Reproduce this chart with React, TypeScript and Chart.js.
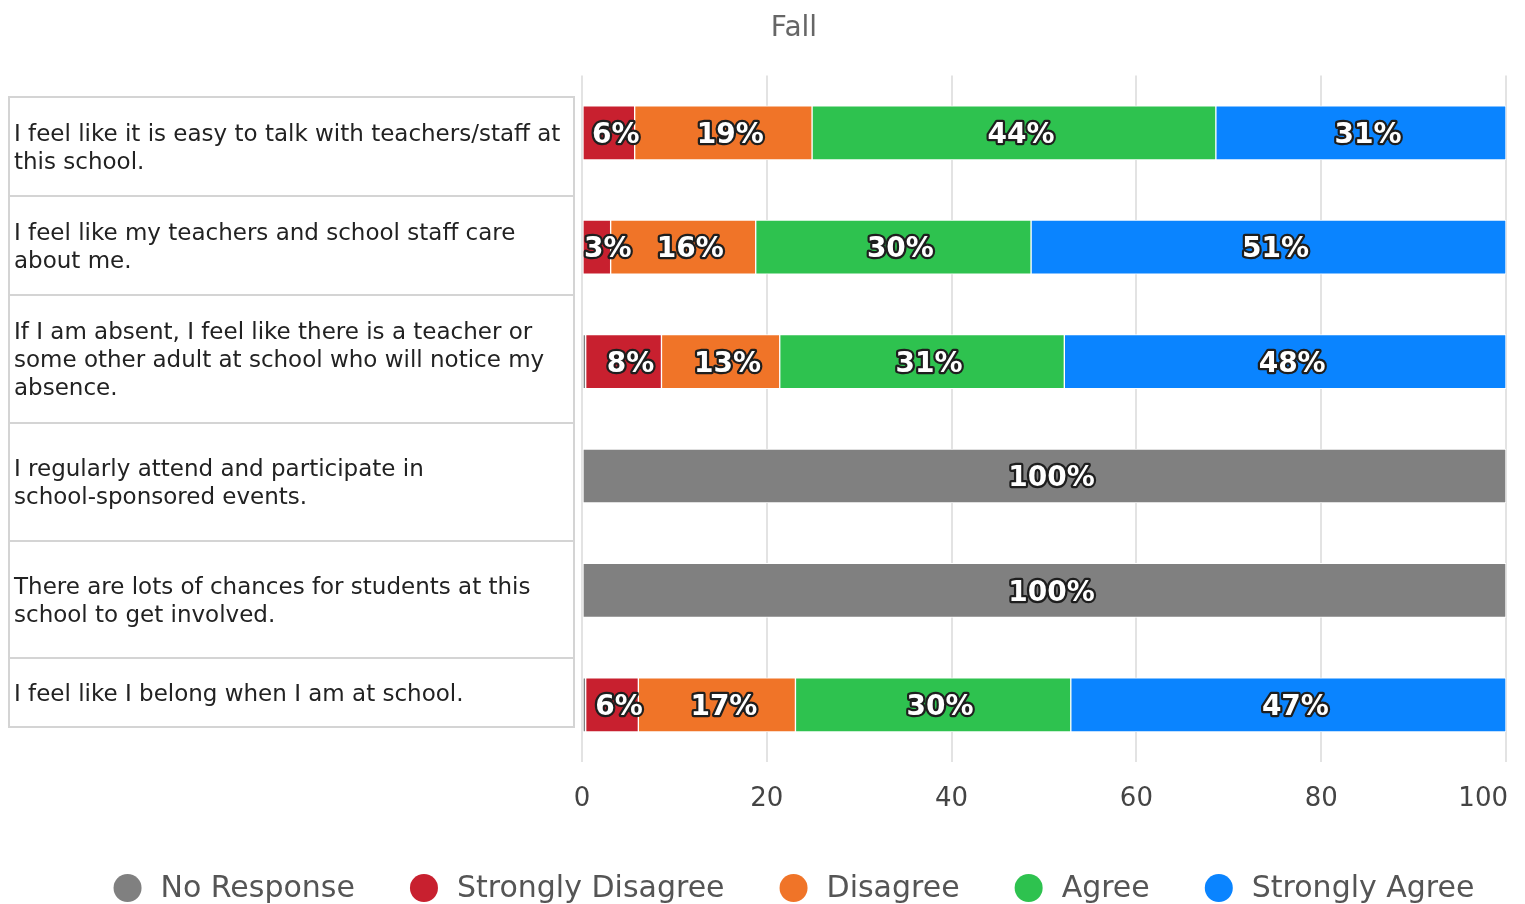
import React, { useEffect, useRef } from "react";
import { Chart, registerables } from "chart.js";

Chart.register(...registerables);

const title = "Fall";

const categories: string[][] = [
  ["I feel like it is easy to talk with teachers/staff at", "this school."],
  ["I feel like my teachers and school staff care", "about me."],
  ["If I am absent, I feel like there is a teacher or", "some other adult at school who will notice my", "absence."],
  ["I regularly attend and participate in", "school-sponsored events."],
  ["There are lots of chances for students at this", "school to get involved."],
  ["I feel like I belong when I am at school."],
];

const seriesNames = ["No Response", "Strongly Disagree", "Disagree", "Agree", "Strongly Agree"];

const noResponse = [0, 0, 0.4, 100, 100, 0.4];
const stronglyDisagree = [5.7, 3.1, 8.2, 0, 0, 5.7];
const disagree = [19.2, 15.7, 12.8, 0, 0, 17.0];
const agree = [43.7, 29.8, 30.8, 0, 0, 29.8];
const stronglyAgree = [31.4, 51.4, 47.8, 0, 0, 47.1];

const xTicks = [0, 20, 40, 60, 80, 100];

const seriesColors = ["#808080", "#c8202f", "#f07428", "#2ec24f", "#0a84ff"];

// layout of the left-hand label table (row boundaries in the picture)
const rowHeights = [99, 99, 128, 118, 117, 69];

const segLabels = {
  id: "segLabels",
  afterDatasetsDraw(chart: any) {
    const ctx = chart.ctx;
    const area = chart.chartArea;
    ctx.save();
    ctx.font = "bold 28px 'DejaVu Sans'";
    ctx.textAlign = "center";
    ctx.textBaseline = "middle";
    ctx.lineJoin = "round";
    chart.data.datasets.forEach((ds: any, di: number) => {
      const meta = chart.getDatasetMeta(di);
      meta.data.forEach((bar: any, i: number) => {
        const v = ds.data[i];
        if (!v || v < 2) return;
        const text = Math.round(v) + "%";
        const p = bar.getProps(["x", "y", "base"], true);
        let cx = (p.x + p.base) / 2 + 7;
        const w = ctx.measureText(text).width;
        if (cx - w / 2 < area.left + 2) cx = area.left + 2 + w / 2;
        ctx.lineWidth = 4.5;
        ctx.strokeStyle = "#1e1e1e";
        ctx.strokeText(text, cx, p.y + 3);
        ctx.fillStyle = "#ffffff";
        ctx.fillText(text, cx, p.y + 3);
      });
    });
    ctx.restore();
  },
};

const axisLabels = {
  id: "axisLabels",
  afterDraw(chart: any) {
    const ctx = chart.ctx;
    const sx = chart.scales.x;
    const area = chart.chartArea;
    ctx.save();
    ctx.font = "26px 'DejaVu Sans'";
    ctx.fillStyle = "#444444";
    ctx.textBaseline = "middle";
    ctx.textAlign = "center";
    const rightLimit = chart.width - 17;
    xTicks.forEach((v) => {
      const t = String(v);
      const w = ctx.measureText(t).width;
      let x = sx.getPixelForValue(v);
      if (x + w / 2 > rightLimit) x = rightLimit - w / 2;
      ctx.fillText(t, x, area.bottom + 37);
    });

    // legend
    ctx.font = "30px 'DejaVu Sans'";
    const r = 14;
    const textGap = 19;
    const itemGap = 55;
    const widths = seriesNames.map((n) => ctx.measureText(n).width);
    const total =
      widths.reduce((a, w) => a + 2 * r + textGap + w, 0) + itemGap * (seriesNames.length - 1);
    let x = (chart.width - 19) / 2 - total / 2;
    const y = 888;
    ctx.textAlign = "left";
    seriesNames.forEach((n, i) => {
      ctx.beginPath();
      ctx.arc(x + r, y, r, 0, Math.PI * 2);
      ctx.fillStyle = seriesColors[i];
      ctx.fill();
      ctx.fillStyle = "#555555";
      ctx.fillText(n, x + 2 * r + textGap, y + 1);
      x += 2 * r + textGap + widths[i] + itemGap;
    });
    ctx.restore();
  },
};

export default function App() {
  const ref = useRef<HTMLCanvasElement | null>(null);

  useEffect(() => {
    if (!ref.current) return;
    const values = [noResponse, stronglyDisagree, disagree, agree, stronglyAgree];
    const chart = new Chart(ref.current, {
      type: "bar",
      data: {
        labels: categories,
        datasets: seriesNames.map((name, i) => ({
          label: name,
          data: values[i],
          backgroundColor: seriesColors[i],
          borderColor: "#ffffff",
          borderWidth: 1,
          borderSkipped: false,
          barThickness: 54,
        })),
      },
      options: {
        indexAxis: "y",
        animation: false,
        responsive: true,
        maintainAspectRatio: false,
        layout: { padding: { left: 0, right: 19, top: 0, bottom: 102 } },
        scales: {
          x: {
            stacked: true,
            min: 0,
            max: 100,
            afterBuildTicks: (s: any) => {
              s.ticks = xTicks.map((v) => ({ value: v }));
            },
            afterFit: (s: any) => {
              s.height = 40;
            },
            ticks: { display: false },
            grid: { color: "#e3e3e3", lineWidth: 2, drawTicks: false },
            border: { display: false },
          },
          y: {
            stacked: true,
            afterFit: (s: any) => {
              s.width = 500;
            },
            ticks: { display: false },
            grid: { display: false },
            border: { display: false },
          },
        },
        plugins: {
          title: {
            display: true,
            text: title,
            color: "#666666",
            font: { size: 28, family: "'DejaVu Sans'", weight: "normal" },
            padding: { top: 12, bottom: 30 },
          },
          legend: { display: false },
          tooltip: { enabled: false },
        },
      },
      plugins: [segLabels, axisLabels],
    } as any);
    return () => chart.destroy();
  }, []);

  return (
    <div style={{ position: "fixed", left: 0, top: 0, width: 1525, height: 904, background: "#fff", overflow: "hidden" }}>
      <div style={{ position: "absolute", left: 82, top: 0, width: 1443, height: 904 }}>
        <canvas ref={ref} />
      </div>
      <div style={{ position: "absolute", left: 8, top: 96, width: 567, zIndex: 2 }}>
        {categories.map((lines, i) => (
          <div
            key={i}
            style={{
              boxSizing: "border-box",
              height: rowHeights[i] + (i === categories.length - 1 ? 2 : 0),
              borderTop: "2px solid #d4d4d4",
              borderLeft: "2px solid #d4d4d4",
              borderRight: "2px solid #d4d4d4",
              borderBottom: i === categories.length - 1 ? "2px solid #d4d4d4" : "none",
              display: "flex",
              flexDirection: "column",
              justifyContent: "center",
              paddingLeft: 4,
              fontFamily: "'DejaVu Sans'",
              fontSize: 23,
              lineHeight: "28px",
              color: "#222",
              whiteSpace: "nowrap",
            }}
          >
            {lines.map((l, j) => (
              <div key={j}>{l}</div>
            ))}
          </div>
        ))}
      </div>
    </div>
  );
}
